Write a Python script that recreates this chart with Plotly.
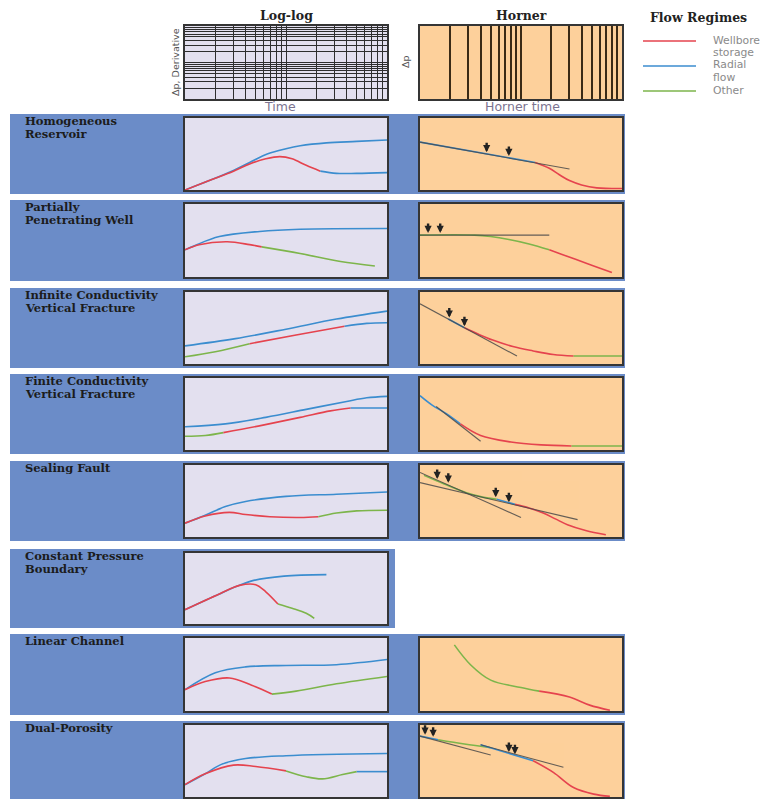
import plotly.graph_objects as go

W, H = 784, 799

# ---------------- colours ----------------
RED = "#e5434e"
BLUE = "#3b8dcf"
GREEN = "#7db54b"
TAN = "#4a4a4a"
BAND = "#6b8cc8"
LAV = "#e3e0ef"
ORANGE = "#fdd09b"
BORDER = "#353535"

# ---------------- rows ----------------
ROW_NAMES = [["Homogeneous", "Reservoir"],
             ["Partially", "Penetrating Well"],
             ["Infinite Conductivity", "Vertical Fracture"],
             ["Finite Conductivity", "Vertical Fracture"],
             ["Sealing Fault"],
             ["Constant Pressure", "Boundary"],
             ["Linear Channel"],
             ["Dual-Porosity"]]
ROW_TOP = [114, 200, 288, 374, 461, 549, 634, 721]
ROW_BOTTOM = [194, 281, 368, 454, 541, 628, 715, 801]
BAND_RIGHT = [625, 625, 625, 625, 625, 395, 625, 625]

# ---------------- curve data (normalised panel units) ----------------
HOMOG_LOGLOG = [
    ("blue", [0, .12, .24, .32, .41, .50, .57, .70, .85, 1], [0, .13, .27, .38, .50, .57, .61, .65, .67, .69]),
    ("red", [0, .12, .24, .32, .40, .47, .53, .60, .67], [0, .13, .26, .36, .43, .46, .43, .34, .26]),
    ("blue", [.67, .75, .85, 1], [.26, .23, .23, .24]),
]
HOMOG_HORNER = [
    ("blue", [0, .57], [.66, .38]),
    ("red", [.57, .64, .69, .74, .80, .875, 1], [.38, .30, .21, .13, .07, .03, .02]),
]
HOMOG_TANGENTS = [([0, .74], [.66, .29])]
HOMOG_ARROWS = ([.33, .44], [.52, .47])

PPW_LOGLOG = [
    ("blue", [0, .05, .17, .37, .57, 1], [.37, .43, .55, .62, .65, .66]),
    ("red", [0, .07, .21, .32, .38], [.37, .44, .48, .44, .41]),
    ("green", [.38, .57, .77, .94], [.41, .32, .21, .15]),
]
PPW_HORNER = [
    ("green", [0, .27, .35, .44, .54, .64], [.57, .57, .55, .51, .45, .37]),
    ("red", [.64, .70, .77, .86, .95], [.37, .31, .24, .15, .06]),
]
PPW_TANGENTS = [([0, .64], [.57, .57])]
PPW_ARROWS = ([.04, .10], [.60, .60])

ICF_LOGLOG = [
    ("blue", [0, .25, .5, .75, 1], [.25, .35, .48, .62, .73]),
    ("green", [0, .15, .32], [.10, .17, .28]),
    ("red", [.32, .55, .79], [.28, .40, .52]),
    ("blue", [.79, .9, 1], [.52, .56, .57]),
]
ICF_HORNER = [
    ("blue", [.14, .22], [.62, .50]),
    ("red", [.22, .29, .36, .46, .56, .66, .76], [.50, .41, .33, .24, .18, .13, .11]),
    ("green", [.76, 1], [.11, .11]),
]
ICF_TANGENTS = [([0, .48], [.83, .11])]
ICF_ARROWS = ([.145, .22], [.64, .52])

FCF_LOGLOG = [
    ("blue", [0, .2, .4, .6, .8, .9, 1], [.32, .36, .45, .56, .67, .72, .74]),
    ("green", [0, .10, .19], [.19, .20, .24]),
    ("red", [.19, .38, .57, .72, .82], [.24, .34, .45, .54, .58]),
    ("blue", [.82, 1], [.58, .58]),
]
FCF_HORNER = [
    ("blue", [0, .06, .13, .20], [.75, .62, .50, .36]),
    ("red", [.20, .30, .45, .60, .75], [.36, .20, .11, .07, .055]),
    ("green", [.75, 1], [.055, .055]),
]
FCF_TANGENTS = [([.08, .30], [.60, .12])]
FCF_ARROWS = ([], [])

SF_LOGLOG = [
    ("blue", [0, .1, .2, .3, .5, .75, 1], [.19, .30, .42, .49, .56, .59, .62]),
    ("red", [0, .1, .22, .30, .42, .57, .66], [.19, .29, .34, .31, .28, .27, .28]),
    ("green", [.66, .75, .85, 1], [.28, .33, .36, .37]),
]
SF_HORNER = [
    ("green", [.02, .12, .23, .31, .38], [.85, .73, .61, .55, .52]),
    ("blue", [.38, .47], [.52, .45]),
    ("red", [.47, .54, .61, .67, .73, .82, .92], [.45, .40, .33, .25, .17, .09, .03]),
]
SF_TANGENTS = [([0, .50], [.89, .27]), ([0, .78], [.75, .24])]
SF_ARROWS = ([.085, .14, .375, .44], [.80, .75, .55, .48])

CPB_LOGLOG = [
    ("blue", [0, .17, .26, .34, .49, .70], [.20, .42, .53, .61, .67, .69]),
    ("red", [0, .17, .27, .35, .40, .46], [.20, .42, .54, .55, .45, .28]),
    ("green", [.46, .53, .60, .64], [.28, .22, .15, .08]),
]

LC_LOGLOG = [
    ("blue", [0, .15, .3, .5, .75, 1], [.29, .52, .60, .62, .63, .70]),
    ("red", [0, .1, .22, .33, .43], [.29, .40, .45, .35, .23]),
    ("green", [.43, .55, .75, 1], [.23, .27, .37, .47]),
]
LC_HORNER = [
    ("green", [.17, .25, .35, .50, .59], [.90, .63, .42, .32, .27]),
    ("red", [.59, .74, .84, .94], [.27, .19, .08, .01]),
]

DP_LOGLOG = [
    ("blue", [0, .1, .18, .3, .5, 1], [.17, .32, .45, .53, .57, .60]),
    ("red", [0, .1, .24, .35, .5], [.17, .32, .44, .42, .36]),
    ("green", [.5, .6, .68, .78, .85], [.36, .28, .25, .31, .35]),
    ("blue", [.85, 1], [.35, .35]),
]
DP_HORNER = [
    ("blue", [0, .09], [.84, .79]),
    ("green", [.09, .22, .35], [.79, .73, .68]),
    ("blue", [.30, .56], [.72, .50]),
    ("red", [.56, .66, .76, .86, .94], [.50, .34, .13, .04, .01]),
]
DP_TANGENTS = [([0, .35], [.84, .58]), ([.30, .71], [.72, .41])]
DP_ARROWS = ([.025, .065, .44, .47], [.86, .83, .62, .59])

LOGLOG_ROWS = [HOMOG_LOGLOG, PPW_LOGLOG, ICF_LOGLOG, FCF_LOGLOG, SF_LOGLOG, CPB_LOGLOG, LC_LOGLOG, DP_LOGLOG]
HORNER_ROWS = [HOMOG_HORNER, PPW_HORNER, ICF_HORNER, FCF_HORNER, SF_HORNER, None, LC_HORNER, DP_HORNER]
TANGENT_ROWS = [HOMOG_TANGENTS, PPW_TANGENTS, ICF_TANGENTS, FCF_TANGENTS, SF_TANGENTS, [], [], DP_TANGENTS]
ARROW_ROWS = [HOMOG_ARROWS, PPW_ARROWS, ICF_ARROWS, FCF_ARROWS, SF_ARROWS, ([], []), ([], []), DP_ARROWS]

# header grids (log decades)
LOG_RANGE = [0, 2]

LEGEND_LABELS = [["Wellbore", "storage"], ["Radial", "flow"], ["Other"]]
LEGEND_COLORS = [RED, BLUE, GREEN]

COLOR = {"red": RED, "blue": BLUE, "green": GREEN}

# ---------------- geometry ----------------
LL_X = (185, 387)
HO_X = (420, 622)


def px(x):
    return x / W


def py(y):
    return 1 - y / H


fig = go.Figure()
layout = dict(width=W, height=H, margin=dict(l=0, r=0, t=0, b=0), autosize=False,
              paper_bgcolor="white", plot_bgcolor="rgba(0,0,0,0)", showlegend=False)
shapes = []
annotations = []
axis_count = [0]


def panel_axes(x0, x1, y0, y1, xtype="linear", ytype="linear", xr=(0, 1), yr=(0, 1),
               xgrid=False, ygrid=False, gridcolor="#333", gridwidth=1):
    axis_count[0] += 1
    n = axis_count[0]
    sx = "" if n == 1 else str(n)
    common = dict(showticklabels=False, ticks="", zeroline=False, showline=True, mirror=True,
                  linecolor=BORDER, linewidth=1.6, fixedrange=True)
    layout["xaxis" + sx] = dict(domain=[px(x0), px(x1)], range=list(xr), type=xtype,
                               anchor="y" + sx, showgrid=xgrid, gridcolor=gridcolor,
                               gridwidth=gridwidth, dtick="D1" if xtype == "log" else None, **common)
    layout["yaxis" + sx] = dict(domain=[py(y1), py(y0)], range=list(yr), type=ytype,
                               anchor="x" + sx, showgrid=ygrid, gridcolor=gridcolor,
                               gridwidth=gridwidth, dtick="D1" if ytype == "log" else None, **common)
    return "x" + sx, "y" + sx


def bg(x0, x1, y0, y1, color):
    shapes.append(dict(type="rect", xref="paper", yref="paper", x0=px(x0), x1=px(x1),
                       y0=py(y1), y1=py(y0), fillcolor=color, line=dict(width=0), layer="below"))


def text(x, y, s, size=12, color="#222", family="DejaVu Sans", xanchor="left", angle=0):
    annotations.append(dict(x=px(x), y=py(y), xref="paper", yref="paper", text=s, showarrow=False,
                            xanchor=xanchor, yanchor="middle", textangle=angle, borderpad=0,
                            font=dict(size=size, color=color, family=family)))


# ---------------- header ----------------
bg(LL_X[0], LL_X[1], 26, 99, LAV)
xa, ya = panel_axes(LL_X[0], LL_X[1], 26, 99, "log", "log", LOG_RANGE, LOG_RANGE, True, True, "#2e2e2e", 1.2)
fig.add_trace(go.Scatter(x=[1, 100], y=[1, 100], mode="lines", line=dict(width=0), opacity=0,
                         xaxis=xa, yaxis=ya, hoverinfo="skip"))
bg(HO_X[0], HO_X[1], 26, 99, ORANGE)
xa, ya = panel_axes(HO_X[0], HO_X[1], 26, 99, "log", "linear", LOG_RANGE, (0, 1), True, False, "#3b2a16", 1.6)
fig.add_trace(go.Scatter(x=[1, 100], y=[0, 1], mode="lines", line=dict(width=0), opacity=0,
                         xaxis=xa, yaxis=ya, hoverinfo="skip"))

BOLD = "DejaVu Serif"
text(286, 16, "<b>Log-log</b>", 12.5, "#222", BOLD, "center")
text(521, 16, "<b>Horner</b>", 12.5, "#222", BOLD, "center")
text(649, 17, "<b>Flow Regimes</b>", 12.5, "#222", BOLD, "left")
text(280, 107, "Time", 12.5, "#7b7390", "DejaVu Sans", "center")
text(522, 107, "Horner time", 12.5, "#7b7390", "DejaVu Sans", "center")
text(175, 62, "Δp, Derivative", 9.5, "#555", "DejaVu Sans", "center", -90)
text(405, 62, "Δp", 9.5, "#555", "DejaVu Sans", "center", -90)

# legend
LEG_Y = [41, 66, 91]
for lab, col, yy in zip(LEGEND_LABELS, LEGEND_COLORS, LEG_Y):
    shapes.append(dict(type="line", xref="paper", yref="paper", x0=px(643), x1=px(696),
                       y0=py(yy), y1=py(yy), line=dict(color=col, width=1.6)))
    for k, s in enumerate(lab):
        text(712, yy - 1 + k * 12, s, 10.8, "#8a8a8a", "DejaVu Sans", "left")

# ---------------- rows ----------------
for i in range(8):
    top, bot = ROW_TOP[i], ROW_BOTTOM[i]
    bg(10, BAND_RIGHT[i], top, bot, BAND)
    for k, s in enumerate(ROW_NAMES[i]):
        text(24, top + 7 + k * 12.8, "<b>" + s + "</b>", 11.5, "#1c1c1c", BOLD, "left")
    ptop, pbot = top + 3.5, min(bot - 4, 798)
    # log-log panel
    bg(LL_X[0], LL_X[1], ptop, pbot, LAV)
    xa, ya = panel_axes(LL_X[0], LL_X[1], ptop, pbot)
    for col, xs, ys in LOGLOG_ROWS[i]:
        fig.add_trace(go.Scatter(x=xs, y=ys, mode="lines", xaxis=xa, yaxis=ya, hoverinfo="skip",
                                 line=dict(color=COLOR[col], width=1.6, shape="spline", smoothing=1.0)))
    # Horner panel
    if HORNER_ROWS[i] is None:
        continue
    bg(HO_X[0], HO_X[1], ptop, pbot, ORANGE)
    xa, ya = panel_axes(HO_X[0], HO_X[1], ptop, pbot)
    for col, xs, ys in HORNER_ROWS[i]:
        fig.add_trace(go.Scatter(x=xs, y=ys, mode="lines", xaxis=xa, yaxis=ya, hoverinfo="skip",
                                 line=dict(color=COLOR[col], width=1.6, shape="spline", smoothing=1.0)))
    for xs, ys in TANGENT_ROWS[i]:
        fig.add_trace(go.Scatter(x=xs, y=ys, mode="lines", xaxis=xa, yaxis=ya, hoverinfo="skip",
                                 line=dict(color=TAN, width=1.1), opacity=0.85))
    ax_x, ax_y = ARROW_ROWS[i]
    for xv, yv in zip(ax_x, ax_y):
        annotations.append(dict(x=xv, y=yv, xref=xa, yref=ya, text="", showarrow=True,
                                ax=0, ay=-11, arrowhead=2, arrowsize=0.6, arrowwidth=2.4,
                                arrowcolor="#222"))

layout["shapes"] = shapes
layout["annotations"] = annotations
fig.update_layout(**layout)
fig.write_html("out.html", config={"displayModeBar": False},
               post_script="document.body.style.margin='0px';document.body.style.padding='0px';"
                           "document.body.style.overflow='hidden';")
